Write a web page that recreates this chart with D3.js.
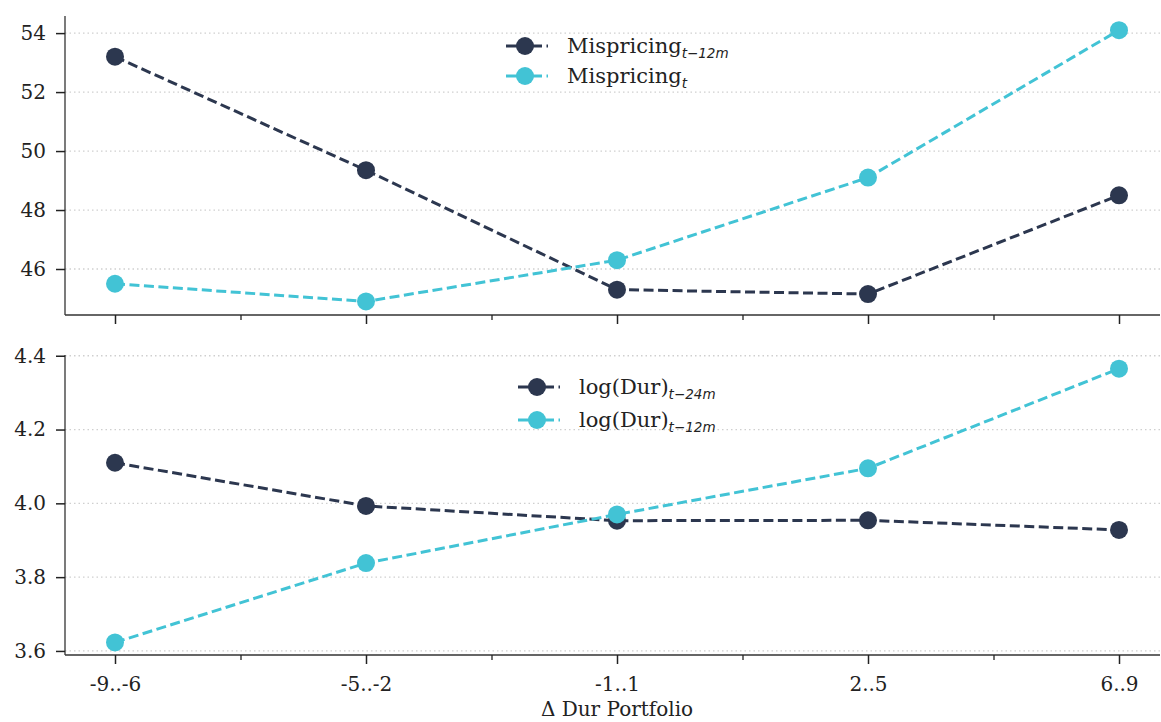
<!DOCTYPE html>
<html><head><meta charset="utf-8">
<script src="https://cdn.jsdelivr.net/npm/d3@7"></script>
<style>
body{margin:0;background:#fff;}
svg{font-family:"DejaVu Serif",serif;}
</style></head>
<body>
<svg id="chart" width="1161" height="722"></svg>
<script>
const categories = ["-9..-6","-5..-2","-1..1","2..5","6..9"];
const misLag = [53.2, 49.35, 45.3, 45.15, 48.5];
const misNow = [45.5, 44.9, 46.3, 49.1, 54.1];
const durLag24 = [4.11, 3.993, 3.953, 3.954, 3.928];
const durLag12 = [3.623, 3.838, 3.97, 4.095, 4.365];
const topTicks = [46, 48, 50, 52, 54];
const botTicks = [3.6, 3.8, 4.0, 4.2, 4.4];

const dark = "#2c374f", cyan = "#42c3d5";
const svg = d3.select("#chart");
const left = 65, right = 1160;
const x = d3.scaleLinear().domain([0, 4]).range([115, 1119]);

function panel(top, bottom, domain, ticks, fmt, s1, s2, legendX, legendY, legendGap, showLabels) {
  const y = d3.scaleLinear().domain(domain).range([bottom, top]);
  const g = svg.append("g");
  g.selectAll(".grid").data(ticks).enter().append("line")
    .attr("x1", left).attr("x2", right)
    .attr("y1", d => y(d)).attr("y2", d => y(d))
    .attr("stroke", "#cfcfcf").attr("stroke-width", 1.3).attr("stroke-dasharray", "1.5,3");
  const ya = g.append("g").attr("transform", `translate(${left},0)`)
    .call(d3.axisLeft(y).tickValues(ticks).tickFormat(fmt).tickSize(9).tickPadding(10));
  ya.select(".domain").attr("d", `M0,${top}V${bottom}`).attr("stroke", "#333").attr("stroke-width", 1.3);
  ya.selectAll(".tick line").attr("stroke", "#222").attr("stroke-width", 1.5);
  ya.selectAll(".tick text").attr("font-size", 20).attr("fill", "#222").attr("font-family", "DejaVu Serif");
  const xa = g.append("g").attr("transform", `translate(0,${bottom})`)
    .call(d3.axisBottom(x).tickValues(d3.range(0, 5)).tickFormat(showLabels ? (i => categories[i]) : "").tickSize(9).tickPadding(13));
  xa.select(".domain").attr("d", `M${left},0H${right}`).attr("stroke", "#333").attr("stroke-width", 1.3);
  xa.selectAll(".tick line").attr("stroke", "#222").attr("stroke-width", 1.5);
  xa.selectAll(".tick text").attr("font-size", 20).attr("fill", "#222").attr("font-family", "DejaVu Serif");
  const xm = g.append("g").attr("transform", `translate(0,${bottom})`)
    .call(d3.axisBottom(x).tickValues([0.5, 1.5, 2.5, 3.5]).tickFormat("").tickSize(5));
  xm.select(".domain").remove();
  xm.selectAll(".tick line").attr("stroke", "#222").attr("stroke-width", 1.3);

  const line = d3.line().x((d, i) => x(i)).y(d => y(d));
  [[s1.data, dark], [s2.data, cyan]].forEach(([data, c]) => {
    g.append("path").datum(data).attr("d", line).attr("fill", "none")
      .attr("stroke", c).attr("stroke-width", 3).attr("stroke-dasharray", "10,4.5");
    g.selectAll(null).data(data).enter().append("circle")
      .attr("cx", (d, i) => x(i)).attr("cy", d => y(d)).attr("r", 9).attr("fill", c);
  });
  [[s1, dark], [s2, cyan]].forEach(([s, c], k) => {
    const ly = legendY + k * legendGap;
    g.append("line").attr("x1", legendX).attr("x2", legendX + 42).attr("y1", ly).attr("y2", ly)
      .attr("stroke", c).attr("stroke-width", 3).attr("stroke-dasharray", "36,4.5");
    g.append("circle").attr("cx", legendX + 19).attr("cy", ly).attr("r", 9).attr("fill", c);
    const t = g.append("text").attr("x", legendX + 61).attr("y", ly + 7).attr("font-size", 21).attr("fill", "#222");
    t.append("tspan").text(s.name);
    t.append("tspan").attr("dy", 5).attr("font-size", 13.5).attr("font-style", "italic")
      .attr("font-family", "DejaVu Sans").text(s.sub);
  });
  return y;
}

panel(16, 315, [44.44, 54.58], topTicks, d3.format("d"),
  {data: misLag, name: "Mispricing", sub: "t\u221212m"},
  {data: misNow, name: "Mispricing", sub: "t"}, 506, 46, 30, false);
panel(355, 655, [3.589, 4.402], botTicks, d3.format(".1f"),
  {data: durLag24, name: "log(Dur)", sub: "t\u221224m"},
  {data: durLag12, name: "log(Dur)", sub: "t\u221212m"}, 518, 387, 33, true);

svg.append("text").attr("x", 617).attr("y", 716).attr("text-anchor", "middle")
  .attr("font-size", 20).attr("fill", "#222").text("\u0394 Dur Portfolio");
</script>
</body></html>
